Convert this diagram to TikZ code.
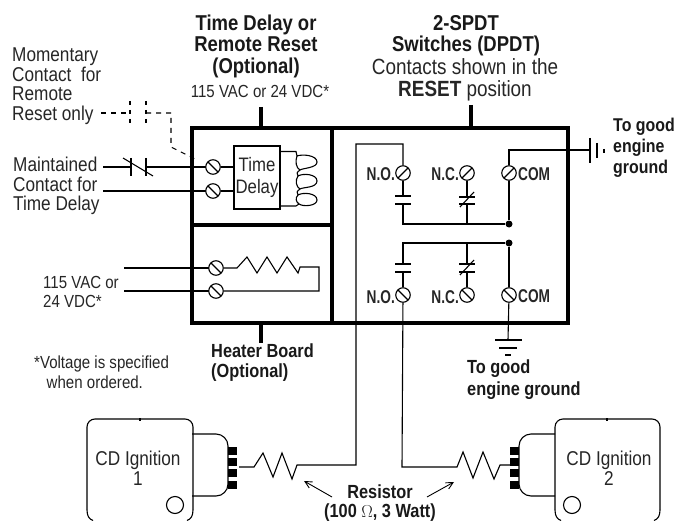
\documentclass[tikz,border=0pt]{standalone}
\usepackage{fontspec}
\setmainfont{Liberation Sans}[FakeStretch=0.86]
\newfontfamily\narrowf{Liberation Sans}[FakeStretch=0.74]
\usetikzlibrary{arrows.meta}
\newcommand{\fz}[2]{\fontsize{#1}{#2}\selectfont}
\tikzset{
  x=1pt,y=-1pt,
  wire/.style={line width=1.1pt,line join=miter},
  frame/.style={line width=3.6pt,line cap=rect},
  stub/.style={line width=3.2pt},
  termin/.style={circle,draw,fill=white,line width=1.1pt,minimum size=14.5pt,inner sep=0pt},
  dashw/.style={line width=1.1pt,dash pattern=on 5pt off 5pt},
  lab/.style={inner sep=0pt,font=\fz{20}{19.5},text=black!85,align=left,anchor=west},
  labc/.style={inner sep=0pt,font=\fz{20}{20},text=black!85,align=center},
  labb/.style={inner sep=0pt,font=\fz{19}{20}\bfseries,text=black!90,align=left,anchor=west},
  hdr/.style={inner sep=0pt,font=\fz{21.5}{21.5}\bfseries,text=black!90,align=center},
  small/.style={lab,font=\fz{17.5}{19.5}},
  swlab/.style={inner sep=0pt,font=\narrowf\fz{18.5}{18}\bfseries,text=black!85},
  dotj/.style={circle,fill=black,minimum size=7pt,inner sep=0pt},
  arr/.style={line width=.9pt,-{Straight Barb[length=7pt,width=7pt]}},
  pin/.style={fill=black,draw=none},
  ign/.style={line width=1.1pt},
}
\newcommand{\slashterm}[3]{% name, x/y, direction
  \node[termin] (#1) at (#2) {};
  \draw[line width=1.1pt] ([shift={(#3:7.2pt)}]#1.center) -- ([shift={(#3+180:7.2pt)}]#1.center);
}
\begin{document}
\begin{tikzpicture}
\useasboundingbox (0,0) rectangle (692,521);
% header labels
\node[hdr] (hdA) at (256,46) {Time Delay or\\Remote Reset\\(Optional)};
\node[small,anchor=center] (hdAv) at (260,91) {115 VAC or 24 VDC*};
\node[hdr] (hdB) at (466,35.5) {2-SPDT\\Switches (DPDT)};
\node[labc,font=\fz{22}{22}] (hdC) at (465,80) {Contacts shown in the\\\textbf{RESET} position};
% frame
\coordinate (fTL) at (192,128); \coordinate (fBR) at (568,323);
\draw[frame] (fTL) rectangle (fBR);
\draw[frame] (332,128) -- (332,323);
\draw[frame] (192,225) -- (332,225);
\draw[stub] (261,107) -- (261,128);
\draw[stub] (471,105) -- (471,128);
\draw[stub] (261,323) -- (261,343);
% left labels
\node[lab] (lbM) at (12,86) {Momentary\\Contact\ \ for\\Remote\\Reset only};
\node[lab] (lbT) at (13,186) {Maintained\\Contact for\\Time Delay};
\node[small,font=\fz{17.5}{19}] (lbV) at (43,291.5) {115 VAC or\\24 VDC*};
\node[small,font=\fz{17.5}{20}] (lbO) at (34,372) {*Voltage is specified\\\ \ \ when ordered.};
\node[labb] (lbH) at (211,363) {Heater Board\\(Optional)};
% dashed remote contact
\coordinate (dA) at (101,113); \coordinate (dB) at (130,113);
\coordinate (dC) at (146,113); \coordinate (dD) at (171,113);
\coordinate (dE) at (171,147); \coordinate (dF) at (197,160);
\draw[dashw] (dA) -- (dB);
\draw[dashw] (dC) -- (dD) -- (dE) -- (dF);
\draw[dashw,dash pattern=on 4pt off 5pt] (130,101) -- (130,127);
\draw[dashw,dash pattern=on 4pt off 5pt] (146,101) -- (146,127);
% terminals of the time delay
\coordinate (mA) at (103,167); \coordinate (mB) at (103,191);
\draw[wire] (mA) -- (131,167) (146,167) -- (213,167);
\draw[wire] (mB) -- (213,191);
\slashterm{tdA}{213,167}{-45}
\slashterm{tdB}{213,191}{-45}
\node[draw,line width=1.1pt,minimum width=46pt,minimum height=63pt,inner sep=0pt,labc,font=\fz{19.5}{22}] (tdBox) at (257,177.5) {Time\\Delay};
\draw[wire] (tdA) -- (tdBox.west |- tdA);
\draw[wire] (tdB) -- (tdBox.west |- tdB);
% maintained contact
\draw[wire] (131,158) -- (131,176);
\draw[wire] (146,158) -- (146,176);
\draw[wire] (123,158) -- (153,176);
% coil
\coordinate (cA) at (280,151.5); \coordinate (cB) at (280,206);
\draw[wire] (cA) -- (296,151.5) -- (297,156)
  .. controls (302,154) and (317,155) .. (317,162)
  .. controls (317,168) and (303,168) .. (300,170)
  .. controls (297,172) and (296,174) .. (298,176)
  .. controls (303,173) and (317,174) .. (317,181)
  .. controls (317,188) and (303,187) .. (300,189)
  .. controls (297,191) and (296,193) .. (298,195)
  .. controls (303,192) and (317,193) .. (317,200)
  .. controls (317,206) and (303,207) .. (299,204)
  -- (296,206) -- (cB);
\draw[wire] (297,156) .. controls (295,161) and (296,168) .. (300,170)
  (298,176) .. controls (295,180) and (296,187) .. (300,189)
  (298,195) .. controls (295,198) and (296,202) .. (299,204);
% heater
\coordinate (hA) at (124,268); \coordinate (hB) at (124,291);
\draw[wire] (hA) -- (216,268);
\draw[wire] (hB) -- (216,291);
\slashterm{htA}{216,268}{-45}
\slashterm{htB}{216,291}{-45}
\draw[wire] (htA) -- (237,268) -- (247,257) -- (257,273) -- (267,257) -- (277,273) -- (287,257) -- (298,273) -- (300,267) -- (319,267) -- (319,291) -- (htB);
% upper switch
\slashterm{noA}{403,173}{45}
\slashterm{ncA}{467,173}{45}
\slashterm{coA}{509,173}{45}
\node[swlab,anchor=east] (lNoA) at (395,174.5) {N.O.};
\node[swlab,anchor=east] (lNcA) at (459,174.5) {N.C.};
\node[swlab,anchor=west] (lCoA) at (518,174.5) {COM};
\node[dotj] (jA) at (509,224) {};
\draw[wire] (noA) -- (403,196) (395,196) -- (411,196) (395,204) -- (411,204) (403,204) -- (403,224) -- (jA);
\draw[wire] (ncA) -- (467,197) (459,197) -- (475,197) (459,204) -- (475,204) (467,204) -- (467,224);
\draw[wire] (460,207) -- (474,192);
\draw[wire] (coA) -- (jA);
% lower switch
\slashterm{noB}{403,295}{-45}
\slashterm{ncB}{467,295}{-45}
\slashterm{coB}{509,295}{-45}
\node[swlab,anchor=east] (lNoB) at (395,297) {N.O.};
\node[swlab,anchor=east] (lNcB) at (459,297) {N.C.};
\node[swlab,anchor=west] (lCoB) at (518,296) {COM};
\node[dotj] (jB) at (509,243) {};
\draw[wire] (jB) -- (403,243) -- (403,264) (395,264) -- (411,264) (395,272) -- (411,272) (403,272) -- (noB);
\draw[wire] (467,243) -- (467,264) (459,264) -- (475,264) (459,272) -- (475,272) (467,272) -- (ncB);
\draw[wire] (460,275) -- (474,260);
\draw[wire] (jB) -- (coB);
% right ground
\coordinate (gR) at (590,150);
\draw[wire] (coA) -- (509,150) -- (gR);
\draw[wire] (590,138) -- (590,163);
\draw[wire] (597,143) -- (597,158);
\draw[wire] (604,149) -- (604,153);
\node[labb,font=\fz{18.5}{21}\bfseries] (lbGR) at (613,148) {To good\\engine\\ground};
% bottom ground
\coordinate (gB) at (508,340);
\draw[wire] (coB) -- (gB);
\draw[wire] (495,340) -- (522,340);
\draw[wire] (499,348) -- (517,348);
\draw[wire] (505,355) -- (511,355);
\node[labb,font=\fz{19}{22}\bfseries] (lbGB) at (467,380) {To good\\engine ground};
% ignition 1
\draw[ign,rounded corners=8pt] (87,510) -- (87,419) -- (193,419) -- (193,510);
\draw[ign] (87,509.8) .. controls (87,516) and (89,519) .. (93,520.5);
\draw[ign] (193,509.8) .. controls (193,516) and (191,519) .. (187,520.5);
\draw[ign] (140,418) -- (140,420.5);
\node[labc] (ignA) at (138,468) {CD Ignition\\1};
\node[circle,draw,line width=1.1pt,minimum size=17pt,inner sep=0pt] (ciA) at (175,505) {};
\draw[ign,rounded corners=12pt] (192,434) -- (228,434) -- (228,496) -- (192,496);
\foreach \yy in {447,458,469,481} \fill[pin] (228,\yy) rectangle (237,\yy+8);
% ignition 2
\draw[ign,rounded corners=8pt] (555,510) -- (555,419) -- (660,419) -- (660,510);
\draw[ign] (555,509.8) .. controls (555,516) and (557,519) .. (561,520.5);
\draw[ign] (660,509.8) .. controls (660,516) and (658,519) .. (654,520.5);
\draw[ign] (607,418) -- (607,420.5);
\node[labc] (ignB) at (609,468) {CD Ignition\\2};
\node[circle,draw,line width=1.1pt,minimum size=17pt,inner sep=0pt] (ciB) at (572,505) {};
\draw[ign,rounded corners=12pt] (555,434) -- (519,434) -- (519,496) -- (555,496);
\foreach \yy in {447,458,469,481} \fill[pin] (510,\yy) rectangle (519,\yy+8);
% resistors and long wires
\coordinate (rA) at (239,467); \coordinate (rB) at (510,465);
\draw[wire] (rA) -- (254,467) -- (263,453) -- (273,477) -- (282,453) -- (292,479) -- (297,465) -- (356,465) -- (356,144) -- (403,144) -- (noA);
\draw[wire] (noB) -- (402,467) -- (457,467) -- (463,452) -- (473,478) -- (483,452) -- (494,479) -- (500,465) -- (rB);
\node[hdr,font=\fz{19}{19}\bfseries] (lbR) at (380,503.5) {Resistor\\(100 $\Omega$, 3 Watt)};
\coordinate (aA) at (332,497); \coordinate (aB) at (304,481);
\coordinate (aC) at (427,497); \coordinate (aD) at (454,482);
\draw[arr] (aA) -- (aB);
\draw[arr] (aC) -- (aD);
\end{tikzpicture}
\end{document}
